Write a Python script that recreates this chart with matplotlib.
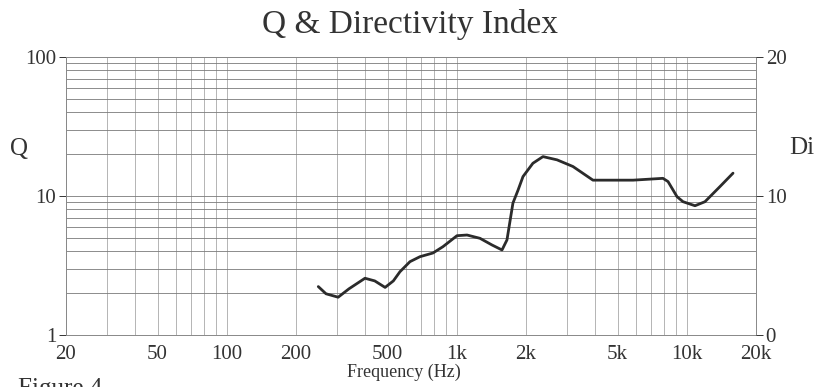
import matplotlib.pyplot as plt
from matplotlib.ticker import FixedLocator, NullFormatter, LogLocator

plt.rcParams['font.family'] = ['Liberation Serif', 'DejaVu Serif']

# Q vs frequency
freq_hz = [250, 270, 305, 340, 399, 440, 488, 530, 566, 626, 692, 788, 871,
           1002, 1108, 1262, 1424, 1573, 1653, 1755, 1846, 1941, 2143, 2370,
           2729, 3200, 3910, 5840, 7880, 8290, 9070, 9630, 10860, 12000,
           13950, 15890]
q_vals = [2.23, 1.98, 1.87, 2.15, 2.56, 2.45, 2.20, 2.45, 2.85, 3.37, 3.66,
          3.89, 4.32, 5.18, 5.24, 4.96, 4.44, 4.09, 4.83, 8.9, 11.0, 13.8,
          17.2, 19.2, 18.2, 16.3, 13.0, 13.0, 13.4, 12.7, 9.89, 9.10, 8.51,
          9.10, 11.7, 14.6]

x_ticks = [20, 50, 100, 200, 500, 1000, 2000, 5000, 10000, 20000]
x_labels = ['20', '50', '100', '200', '500', '1k', '2k', '5k', '10k', '20k']
q_ticks = [1, 10, 100]
di_ticks = [0, 10, 20]

W, H = 817, 387
fig = plt.figure(figsize=(W / 100, H / 100), dpi=100)
ax = fig.add_axes([66 / W, 1 - 335 / H, (756 - 66) / W, (335 - 57) / H])

ax.plot(freq_hz, q_vals, color='#2b2b2b', lw=2.0, zorder=3,
        solid_joinstyle='round', solid_capstyle='round')

ax.set_xscale('log')
ax.set_yscale('log')
ax.set_xlim(20, 20000)
ax.set_ylim(1, 100)

ax.xaxis.set_major_locator(FixedLocator(x_ticks))
ax.set_xticklabels(x_labels)
ax.xaxis.set_minor_locator(LogLocator(base=10, subs=range(2, 10)))
ax.xaxis.set_minor_formatter(NullFormatter())
ax.yaxis.set_major_locator(FixedLocator(q_ticks))
ax.set_yticklabels([str(t) for t in q_ticks])
ax.yaxis.set_minor_locator(LogLocator(base=10, subs=range(2, 10)))
ax.yaxis.set_minor_formatter(NullFormatter())

# full grid: vertical on every log step, horizontal on every log step
ax.grid(which='both', axis='x', color='#a8a8a8', lw=0.6)
ax.grid(which='both', axis='y', color='#7a7a7a', lw=0.6)

ax.tick_params(axis='x', which='both', length=0, pad=7, labelsize=15, colors='#333')
ax.tick_params(axis='y', which='major', length=5, width=0.7, pad=2, labelsize=15, colors='#333')
ax.tick_params(axis='y', which='minor', length=0)
for s in ax.spines.values():
    s.set_color('#888')
    s.set_linewidth(0.7)

ax2 = ax.twinx()
ax2.set_ylim(0, 20)
ax2.set_yticks(di_ticks)
ax2.tick_params(axis='y', length=5, width=0.7, pad=2, labelsize=15, colors='#333')
for s in ax2.spines.values():
    s.set_visible(False)

fig.text(410 / W, 1 - 24 / H, 'Q & Directivity Index', ha='center', va='center',
         fontsize=24, color='#333')
fig.text(19 / W, 1 - 149 / H, 'Q', ha='center', va='center', fontsize=18, color='#333')
fig.text(802 / W, 1 - 148 / H, 'Di', ha='center', va='center', fontsize=18, color='#333')
fig.text(404 / W, 1 - 372 / H, 'Frequency (Hz)', ha='center', va='center',
         fontsize=13, color='#333')
fig.text(18 / W, 1 - 378 / H, 'Figure 4', ha='left', va='top', fontsize=18, color='#333')

fig.savefig('out.png', dpi=100, facecolor='white')
